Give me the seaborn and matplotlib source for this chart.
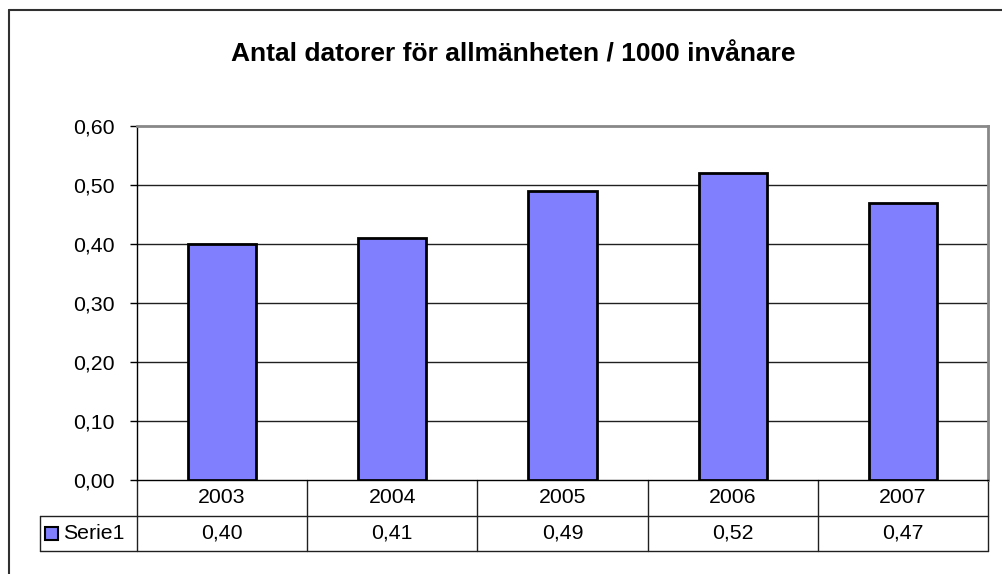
import matplotlib
matplotlib.use('Agg')
import matplotlib.pyplot as plt
import seaborn as sns
import pandas as pd
from matplotlib.patches import Rectangle

# Data
years = ['2003', '2004', '2005', '2006', '2007']
values = [0.40, 0.41, 0.49, 0.52, 0.47]
series_name = 'Serie1'
title = 'Antal datorer för allmänheten / 1000 invånare'
yticks = [0.0, 0.1, 0.2, 0.3, 0.4, 0.5, 0.6]

bar_color = '#8080FF'
line_color = '#202020'
fs = 15.3

sns.set_style('white')
plt.rcParams['font.family'] = ['Liberation Sans', 'DejaVu Sans']
plt.rcParams['text.color'] = 'black'
plt.rcParams['ytick.color'] = 'black'

df = pd.DataFrame({'year': years, 'value': values})

W, H = 1003, 574
fig = plt.figure(figsize=(W / 100, H / 100), dpi=100)
fig.patch.set_facecolor('white')

# plot area in pixel coords
left, right, top, bottom = 137, 988, 126, 480
ax = fig.add_axes([left / W, 1 - bottom / H, (right - left) / W, (bottom - top) / H])

sns.barplot(data=df, x='year', y='value', color=bar_color, width=0.4,
            edgecolor='black', linewidth=2, saturation=1, ax=ax, zorder=3)

ax.set_ylim(0, 0.6)
ax.set_xlim(-0.5, len(years) - 0.5)
ax.set_yticks(yticks)
ax.set_yticklabels([f'{v:.2f}'.replace('.', ',') for v in yticks], fontsize=fs)
ax.set_xticks([])
ax.set_xlabel('')
ax.set_ylabel('')
ax.tick_params(axis='y', direction='out', length=5, width=1, color='black',
               labelcolor='black', pad=11, left=True)

for v in yticks[1:-1]:
    ax.axhline(v, color=line_color, lw=1, zorder=1)

for side in ['top', 'right']:
    ax.spines[side].set_color('#888888')
    ax.spines[side].set_linewidth(2)
ax.spines['left'].set_color('black')
ax.spines['left'].set_linewidth(1)
ax.spines['bottom'].set_color('black')
ax.spines['bottom'].set_linewidth(1)

# data table below the plot area
tr = ax.get_xaxis_transform()
px_x = (right - left) / len(years)
row_h = 35.5 / (bottom - top)
legend_left = -0.5 - (left - 40) / px_x
n = len(years)
kw = dict(color=line_color, lw=1, transform=tr, clip_on=False)

ax.plot([-0.5, n - 0.5], [-row_h, -row_h], **kw)
ax.plot([legend_left, -0.5], [-row_h, -row_h], **kw)
ax.plot([legend_left, n - 0.5], [-2 * row_h, -2 * row_h], **kw)
ax.plot([legend_left, legend_left], [-row_h, -2 * row_h], **kw)
for i in range(n + 1):
    ax.plot([i - 0.5, i - 0.5], [0, -2 * row_h], **kw)

for i, (yr, v) in enumerate(zip(years, values)):
    ax.text(i, -row_h / 2, yr, transform=tr, ha='center', va='center', fontsize=fs)
    ax.text(i, -1.5 * row_h, f'{v:.2f}'.replace('.', ','), transform=tr,
            ha='center', va='center', fontsize=fs)

# legend key in table
fig.patches.append(Rectangle((45 / W, 1 - 540 / H), 13 / W, 13 / H,
                             transform=fig.transFigure, facecolor=bar_color,
                             edgecolor='black', lw=1.5))
fig.text(63 / W, 1 - 533.5 / H, series_name, ha='left', va='center', fontsize=fs)

# title
fig.text((230 + 797) / 2 / W, 1 - 62 / H, title, ha='center', va='baseline',
         fontsize=19, fontweight='bold')

# chart frame (left and top edges visible)
fig.add_artist(plt.Line2D([9 / W, 9 / W], [0, 1 - 10 / H], color='#303030', lw=1.5,
                          transform=fig.transFigure))
fig.add_artist(plt.Line2D([9 / W, 1], [1 - 10 / H, 1 - 10 / H], color='#303030', lw=1.5,
                          transform=fig.transFigure))

fig.savefig('out.png', dpi=100)
